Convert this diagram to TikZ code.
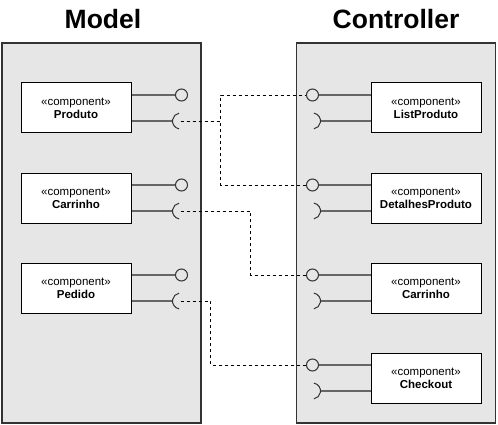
\documentclass[tikz,border=0pt]{standalone}
\usepackage{fontspec}
\setmainfont{Liberation Sans}
\usepackage{tikz}
\usetikzlibrary{calc,positioning}
\definecolor{PanelGray}{HTML}{E6E6E6}
\definecolor{StemGray}{HTML}{666666}
\definecolor{Ink}{HTML}{333333}
\tikzset{
  every picture/.style={line width=1pt},
  layerbox/.style={
    draw=Ink,
    line width=1.4pt,
    fill=PanelGray,
    minimum width=199pt,
    minimum height=380pt,
    inner sep=0pt
  },
  layertitle/.style={font=\fontsize{26.5}{30}\selectfont\bfseries, inner sep=0pt, anchor=base},
  compbox/.style={
    draw=black,
    fill=white,
    align=center,
    font=\fontsize{11.5}{13}\selectfont,
    minimum width=110pt,
    minimum height=50pt,
    inner sep=0pt
  },
  lolli/.style={circle, draw=Ink, fill=PanelGray, minimum size=12pt, inner sep=0pt},
  stemline/.style={draw=StemGray, line width=1.3pt},
  socketarc/.style={draw=Ink},
  dashwire/.style={draw=black, dash pattern=on 3pt off 3pt, line width=0.8pt}
}

\begin{document}
\begin{tikzpicture}[x=1pt,y=-1pt]
  \useasboundingbox (0,0) rectangle (498,425);

  \node[layerbox] (model) at (101.5,233) {};
  \node[layerbox] (ctrl) at (396.25,233) {};
  \node[layertitle] (modelT) at (103,28.5) {Model};
  \node[layertitle] (ctrlT) at (396,28.5) {Controller};

  \node[compbox] (mProduto) at (76,108) {«component»\\\textbf{Produto}};
  \node[compbox] (mCarrinho) at (76,198) {«component»\\\textbf{Carrinho}};
  \node[compbox] (mPedido) at (76,288) {«component»\\\textbf{Pedido}};

  \node[compbox] (cList) at (426,108) {«component»\\\textbf{ListProduto}};
  \node[compbox] (cDetalhes) at (426,198) {«component»\\\textbf{DetalhesProduto}};
  \node[compbox] (cCarrinho) at (426,288) {«component»\\\textbf{Carrinho}};
  \node[compbox] (cCheckout) at (426,378) {«component»\\\textbf{Checkout}};

  \foreach \c in {mProduto,mCarrinho,mPedido} {
    \node[lolli] (\c-lp) at ($(\c.east)+(50,-13)$) {};
    \coordinate (\c-sk) at ($(\c.east)+(49,13)$);
    \draw[stemline] (\c.east |- \c-lp) -- (\c-lp.west);
    \draw[stemline] (\c.east |- \c-sk) -- ++(41,0);
    \draw[socketarc] (\c-sk) ++(100:8) arc[start angle=100, end angle=260, radius=8];
  }
  \foreach \c in {cList,cDetalhes,cCarrinho,cCheckout} {
    \node[lolli] (\c-lp) at ($(\c.west)+(-58,-13)$) {};
    \coordinate (\c-sk) at ($(\c.west)+(-58,13)$);
    \draw[stemline] (\c.west |- \c-lp) -- (\c-lp.east);
    \draw[stemline] (\c.west |- \c-sk) -- ++(-50,0);
    \draw[socketarc] (\c-sk) ++(-80:8) arc[start angle=-80, end angle=80, radius=8];
  }

  \draw[dashwire] (mProduto-sk) -- ++(40,0) |- (cList-lp.west);
  \draw[dashwire] (mProduto-sk) -- ++(40,0) |- (cDetalhes-lp.west);
  \draw[dashwire] (mCarrinho-sk) -- ++(70,0) |- (cCarrinho-lp.west);
  \draw[dashwire] (mPedido-sk) -- ++(30,0) |- (cCheckout-lp.west);
\end{tikzpicture}
\end{document}
